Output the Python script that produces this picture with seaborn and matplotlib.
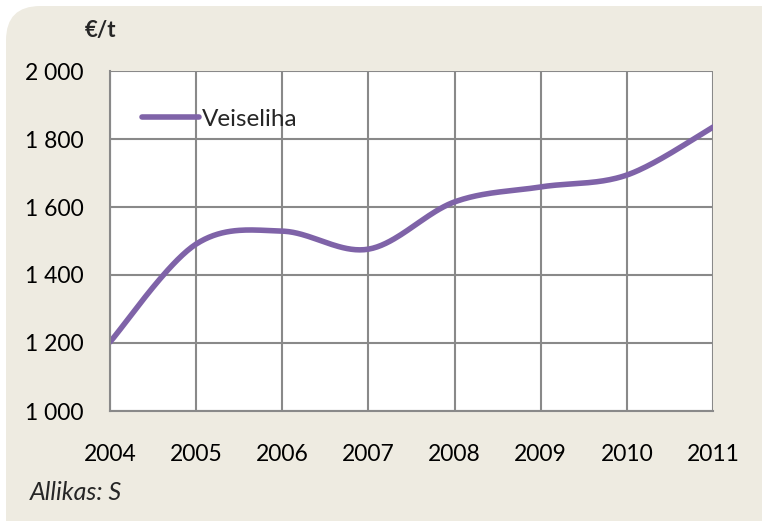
import numpy as np
import pandas as pd
import matplotlib
matplotlib.use("Agg")
import matplotlib.pyplot as plt
from matplotlib.patches import FancyBboxPatch
import seaborn as sns

years = [2004, 2005, 2006, 2007, 2008, 2009, 2010, 2011]
values = [1203, 1491, 1529, 1476, 1615, 1659, 1694, 1835]
series_name = "Veiseliha"
y_ticks = [1000, 1200, 1400, 1600, 1800, 2000]
y_tick_labels = ["1 000", "1 200", "1 400", "1 600", "1 800", "2 000"]

sns.set_theme(style="white")
plt.rcParams["font.family"] = ["Lato", "DejaVu Sans"]


def smooth_curve(xs, ys, n=40):
    """Excel-style smoothed line: cubic Bezier segments with Catmull-Rom controls."""
    P = np.column_stack([xs, ys]).astype(float)
    P_ext = np.vstack([P[0], P, P[-1]])
    out = []
    for i in range(len(P) - 1):
        p0, p1, p2, p3 = P_ext[i], P_ext[i + 1], P_ext[i + 2], P_ext[i + 3]
        c1 = p1 + (p2 - p0) / 6.0
        c2 = p2 - (p3 - p1) / 6.0
        t = np.linspace(0, 1, n, endpoint=(i == len(P) - 2))[:, None]
        seg = ((1 - t) ** 3) * p1 + 3 * ((1 - t) ** 2) * t * c1 + 3 * (1 - t) * t ** 2 * c2 + t ** 3 * p2
        out.append(seg)
    pts = np.vstack(out)
    return pts[:, 0], pts[:, 1]


sx, sy = smooth_curve(years, values)
df = pd.DataFrame({"year": sx, "value": sy, "series": series_name})

fig = plt.figure(figsize=(7.62, 5.21), dpi=100)
fig.patch.set_facecolor("white")

bg = FancyBboxPatch((6 / 762, -0.1), 1.2, 1.1 - 6 / 521,
                    boxstyle="round,pad=0,rounding_size=0.045",
                    transform=fig.transFigure, facecolor="#EEEBE1",
                    edgecolor="none", zorder=-10, mutation_aspect=762 / 521)
fig.patches.append(bg)

ax = fig.add_axes([110 / 762, 1 - 411 / 521, 603 / 762, 340 / 521])
ax.set_facecolor("white")

sns.lineplot(data=df, x="year", y="value", hue="series", sort=False,
             palette=["#7F63A8"], linewidth=4, ax=ax, estimator=None,
             solid_capstyle="round")

ax.set_xlim(2004, 2011)
ax.set_ylim(1000, 2000)
ax.set_xticks(years)
ax.set_xticklabels([str(y) for y in years])
ax.set_yticks(y_ticks)
ax.set_yticklabels(y_tick_labels)
ax.grid(True, color="#898989", linewidth=1.5)
ax.set_axisbelow(True)
for s in ["top", "right"]:
    ax.spines[s].set_visible(False)
for s in ["left", "bottom"]:
    ax.spines[s].set_color("#898989")
    ax.spines[s].set_linewidth(1.5)
ax.tick_params(axis="both", which="both", direction="out", width=1.5,
               color="#898989", labelsize=16.5, labelcolor="black")
ax.tick_params(axis="x", pad=18, length=6)
ax.tick_params(axis="y", pad=12, length=7)
ax.set_xlabel("")
ax.set_ylabel("")

leg = ax.legend(loc="center left", bbox_to_anchor=(0.053, 0.858), frameon=False,
                fontsize=17.5, handlelength=2.35, handletextpad=0.12,
                borderaxespad=0, borderpad=0)
for h in leg.get_lines():
    h.set_linewidth(4)
    h.set_solid_capstyle("round")

fig.text(85 / 762, 1 - 31 / 521, "€/t", fontsize=16, fontweight="bold",
         va="center", ha="left")
fig.text(30 / 762, 1 - 493 / 521, "Allikas: S", fontsize=18, style="italic",
         va="center", ha="left")

fig.savefig("out.png", dpi=100, facecolor=fig.get_facecolor())
